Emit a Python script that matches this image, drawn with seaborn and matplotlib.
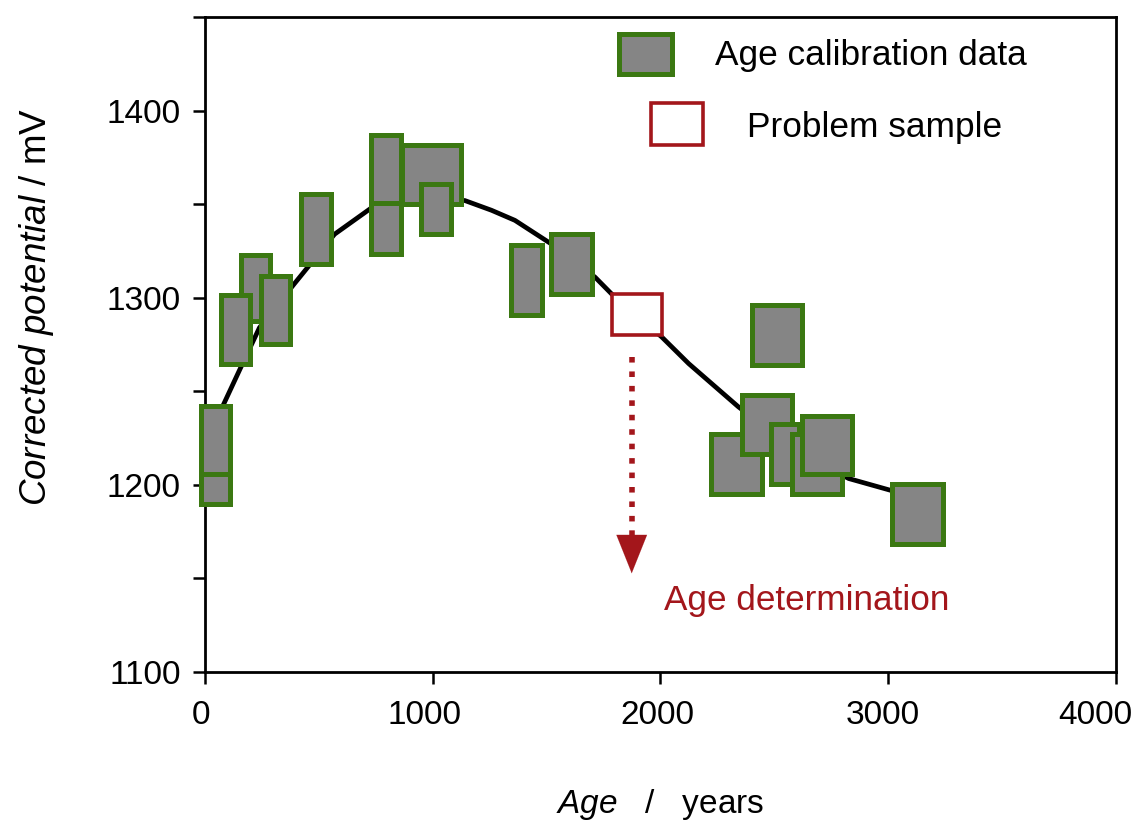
import numpy as np
import pandas as pd
import matplotlib
matplotlib.use("Agg")
import matplotlib.pyplot as plt
from matplotlib.ticker import MultipleLocator
from matplotlib.patches import Rectangle
import matplotlib.transforms as mtransforms
import seaborn as sns

# ---------------- data ----------------
# calibration boxes (age range in years, potential range in mV), in drawing order
cal_age_lo = [-19, -19, 159, 69, 245, 423, 730, 730, 864, 949, 1345, 1521, 2401, 2224, 2357, 2487, 2577, 2621, 3016]
cal_age_hi = [110, 110, 285, 199, 373, 553, 861, 861, 1124, 1080, 1479, 1698, 2622, 2445, 2577, 2610, 2796, 2842, 3240]
cal_mv_lo = [1189.6, 1189.6, 1287.6, 1264.4, 1275.1, 1317.9, 1323.3, 1323.3, 1350.3, 1334.0, 1290.8, 1301.9,
             1264.1, 1194.9, 1216.3, 1200.3, 1194.9, 1205.6, 1168.2]
cal_mv_hi = [1242.3, 1205.8, 1322.9, 1301.5, 1311.8, 1355.5, 1387.2, 1350.5, 1381.9, 1360.9, 1328.4, 1334.1,
             1296.3, 1227.2, 1248.0, 1232.5, 1227.2, 1236.9, 1200.4]

# problem sample box
prob_age = [1786, 2006]
prob_mv = [1280.1, 1301.9]

# calibration curve
curve_age = [70, 158, 239, 393, 569, 730, 900, 1141, 1258, 1361, 1518, 1713, 1786, 2006, 2124, 2343, 2600, 2827, 3011, 3100]
curve_mv = [1240, 1263, 1284, 1307.6, 1334, 1348, 1353, 1352, 1346.8, 1341.4, 1329, 1311, 1302, 1279, 1264.8,
            1241.6, 1218, 1203.3, 1197, 1195]

# age determination arrow
arrow_age = 1874
arrow_mv_start = 1268.5
arrow_mv_end = 1167
arrow_mv_tip = 1152.6

x_ticks = [0, 1000, 2000, 3000, 4000]
y_ticks = [1100, 1200, 1300, 1400]

GREEN = "#3b7812"
GRAY = "#858585"
RED = "#a3161b"

# ---------------- style ----------------
sns.set_theme(style="ticks")
plt.rcParams["font.family"] = ["Liberation Sans", "DejaVu Sans"]
plt.rcParams["mathtext.fontset"] = "custom"
plt.rcParams["mathtext.rm"] = "Liberation Sans"
plt.rcParams["mathtext.it"] = "Liberation Sans:italic"

fig = plt.figure(figsize=(11.41, 8.21), dpi=100)
ax = fig.add_axes([0.1797, 0.1819, 0.7982, 0.797])

# curve
curve_df = pd.DataFrame({"age": curve_age, "mv": curve_mv})
sns.lineplot(data=curve_df, x="age", y="mv", ax=ax, color="black", lw=3.4, sort=False,
             zorder=2, estimator=None)

# calibration boxes
centers = [(a + b) / 2 for a, b in zip(cal_age_lo, cal_age_hi)]
widths = [b - a for a, b in zip(cal_age_lo, cal_age_hi)]
heights = [b - a for a, b in zip(cal_mv_lo, cal_mv_hi)]
bars = ax.bar(centers, heights, width=widths, bottom=cal_mv_lo, color=GRAY,
              edgecolor=GREEN, linewidth=3.6, zorder=3)
for p in bars.patches:
    p.set_clip_on(False)

# problem sample box
pb = ax.bar([(prob_age[0] + prob_age[1]) / 2], [prob_mv[1] - prob_mv[0]],
            width=[prob_age[1] - prob_age[0]], bottom=[prob_mv[0]],
            color="white", edgecolor=RED, linewidth=2.6, zorder=3)

# dotted arrow
ax.plot([arrow_age, arrow_age], [arrow_mv_start, arrow_mv_end], color=RED, lw=4.0,
        linestyle=(0, (1.0, 1.6)), dash_capstyle="butt", zorder=3)
ax.annotate("", xy=(arrow_age, arrow_mv_tip), xytext=(arrow_age, arrow_mv_end + 2),
            arrowprops=dict(arrowstyle="-|>,head_length=1.25,head_width=0.5", color=RED,
                            lw=0.1, mutation_scale=22, shrinkA=0, shrinkB=0), zorder=3)
ax.text(2016, 1133, "Age determination", color=RED, fontsize=25.3, ha="left", va="baseline")

# legend (manual)
ax.add_patch(Rectangle((0.4546, 0.9141), 0.0576, 0.0604, transform=ax.transAxes,
                       facecolor=GRAY, edgecolor=GREEN, lw=3.6, zorder=4))
ax.text(0.560, 0.927, "Age calibration data", transform=ax.transAxes, fontsize=25.4,
        ha="left", va="baseline", color="black")
ax.add_patch(Rectangle((0.4892, 0.8056), 0.0571, 0.0634, transform=ax.transAxes,
                       facecolor="white", edgecolor=RED, lw=2.6, zorder=4))
ax.text(0.5948, 0.8176, "Problem sample", transform=ax.transAxes, fontsize=25.4,
        ha="left", va="baseline", color="black")

# axes
ax.set_xlim(0, 4000)
ax.set_ylim(1100, 1450)
ax.set_xticks(x_ticks)
ax.set_xticklabels([str(t) for t in x_ticks])
ax.set_yticks(y_ticks)
ax.set_yticklabels([str(t) for t in y_ticks])
ax.yaxis.set_minor_locator(MultipleLocator(50))
ax.tick_params(axis="both", which="both", direction="out", length=8.5, width=1.8,
               color="black", labelsize=24, labelcolor="black")
ax.tick_params(axis="x", pad=12)
ax.tick_params(axis="y", pad=9)
ax.tick_params(axis="x", which="minor", bottom=False)
for s in ax.spines.values():
    s.set_visible(True)
    s.set_linewidth(2.0)
    s.set_color("black")

# small horizontal nudges of x tick labels (pixels) as in the reference
x_label_shift_px = [-4, -8, -3, -5, -20]
for lbl, dx in zip(ax.get_xticklabels(), x_label_shift_px):
    lbl.set_transform(lbl.get_transform() + mtransforms.ScaledTranslation(dx / 100, 0, fig.dpi_scale_trans))

ax.set_xlabel(r"$\mathit{Age}$   /   years", fontsize=24, color="black")
ax.set_ylabel(r"$\mathit{Corrected\ potential}$ / mV", fontsize=26.5, color="black")
ax.xaxis.set_label_coords(0.5, -0.1765)
ax.xaxis.label.set_va("top")
ax.yaxis.set_label_coords(-0.1636, 0.557)

fig.savefig("out.png", dpi=100, facecolor="white")
